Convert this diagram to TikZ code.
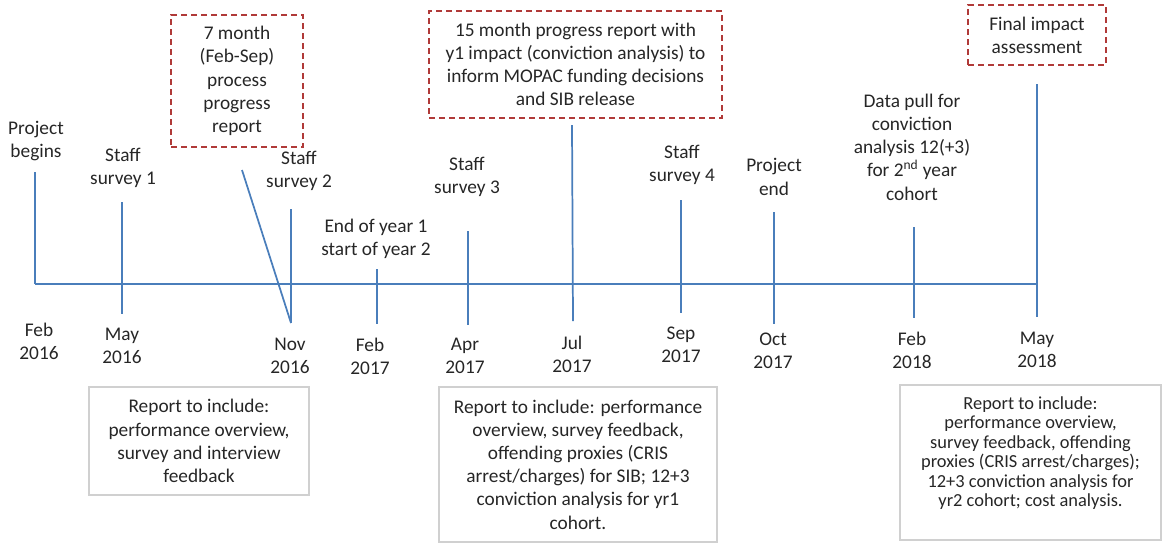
\documentclass[tikz,border=0pt]{standalone}
\usepackage{fontspec}
\setmainfont{Carlito}
\definecolor{lineblue}{RGB}{74,126,187}
\definecolor{dashred}{RGB}{176,58,56}
\definecolor{boxgray}{RGB}{208,208,208}
\definecolor{txtgray}{RGB}{38,38,38}
\tikzset{
	tick/.style={lineblue, line width=1.3pt},
	lbl/.style={align=center, inner sep=0pt, text=txtgray, font=\fontsize{14.5}{17.4}\selectfont},
	plan/.style={lbl, draw=dashred, line width=1.3pt, dash pattern=on 4.5pt off 3pt},
	report/.style={lbl, draw=boxgray, line width=1.2pt},
}
\begin{document}
\begin{tikzpicture}[x=0.75pt, y=-0.75pt]
	\useasboundingbox(0, 0) rectangle (1164, 544);
	\coordinate(start) at(35, 284);
	\coordinate(stop) at(1037, 284);
	\draw[tick](start) -- (stop);

		\coordinate(feb16t) at(35, 172);
		\draw[tick](feb16t) -- (start);
			\node[lbl](begins) at(36, 141){Project\\begins};
			\node[lbl](feb16) at(39, 341){Feb\\2016};

		\coordinate(may16t) at(122, 202);
		\coordinate(may16b) at(122, 314);
		\draw[tick](may16t) -- (may16b);
			\node[lbl](survey1) at(123, 168){Staff\\survey 1};
			\node[lbl](may16) at(122, 346){May\\2016};

		\coordinate(nov16t) at(291, 209);
		\coordinate(nov16b) at(291, 323);
		\coordinate(sevenend) at(242, 170);
		\draw[tick](nov16t) -- (nov16b);
		\draw[tick](sevenend) -- (nov16b);
			\node[lbl](survey2) at(299, 171){Staff\\survey 2};
			\node[lbl](nov16) at(290, 356){Nov\\2016};
			\node[plan, minimum width=99pt, minimum height=99pt](seven) at(237, 81){7 month\\(Feb-Sep)\\process\\progress\\report};

		\coordinate(feb17t) at(377, 269);
		\coordinate(feb17b) at(377, 324);
		\draw[tick](feb17t) -- (feb17b);
			\node[lbl](yearend) at(376, 239){End of year 1\\start of year 2};
			\node[lbl](feb17) at(370, 356){Feb\\2017};

		\coordinate(apr17t) at(468, 231);
		\coordinate(apr17b) at(468, 325);
		\draw[tick](apr17t) -- (apr17b);
			\node[lbl](survey3) at(467, 177){Staff\\survey 3};
			\node[lbl](apr17) at(465, 356){Apr\\2017};

		\coordinate(jul17t) at(572, 125);
		\coordinate(jul17b) at(573, 321);
		\draw[tick](jul17t) -- (jul17b);
			\node[plan, minimum width=219.75pt, minimum height=80.25pt](fifteen) at(575.5, 64.5){15 month progress report with\\y1 impact (conviction analysis) to\\inform MOPAC funding decisions\\and SIB release};
			\node[lbl](jul17) at(572, 354){Jul\\2017};

		\coordinate(sep17t) at(681, 200);
		\coordinate(sep17b) at(681, 313);
		\draw[tick](sep17t) -- (sep17b);
			\node[lbl](survey4) at(682, 165){Staff\\survey 4};
			\node[lbl](sep17) at(681, 345){Sep\\2017};

		\coordinate(oct17t) at(774, 212);
		\coordinate(oct17b) at(774, 324);
		\draw[tick](oct17t) -- (oct17b);
			\node[lbl](projend) at(774, 177){Project\\end};
			\node[lbl](oct17) at(773, 351){Oct\\2017};

		\coordinate(feb18t) at(914, 227);
		\coordinate(feb18b) at(914, 318);
		\draw[tick](feb18t) -- (feb18b);
			\node[lbl](datapull) at(912, 147){Data pull for\\conviction\\analysis 12(+3)\\for 2\textsuperscript{nd} year\\cohort};
			\node[lbl](feb18) at(912, 350){Feb\\2018};

		\coordinate(may18t) at(1037, 84);
		\coordinate(may18b) at(1037, 317);
		\draw[tick](may18t) -- (may18b);
			\node[plan, minimum width=103.5pt, minimum height=45pt](final) at(1037, 35){Final impact\\assessment};
			\node[lbl](may18) at(1037, 350){May\\2018};

	\node[report, minimum width=165pt, minimum height=81pt](report1) at(199, 441){Report to include:\\performance overview,\\survey and interview\\feedback};
	\node[report, minimum width=208.5pt, minimum height=116.25pt](report2) at(578, 464.5){Report to include: performance\\overview, survey feedback,\\offending proxies (CRIS\\arrest/charges) for SIB; 12+3\\conviction analysis for yr1\\cohort.};
	\node[report, minimum width=195.75pt, minimum height=116.25pt](report3) at(1030.5, 462.5){};
	\node[lbl, font=\fontsize{13.8}{14.6}\selectfont](report3txt) at(1030.5, 453){Report to include:\\performance overview,\\survey feedback, offending\\proxies (CRIS arrest/charges);\\12+3 conviction analysis for\\yr2 cohort; cost analysis.};
\end{tikzpicture}
\end{document}
